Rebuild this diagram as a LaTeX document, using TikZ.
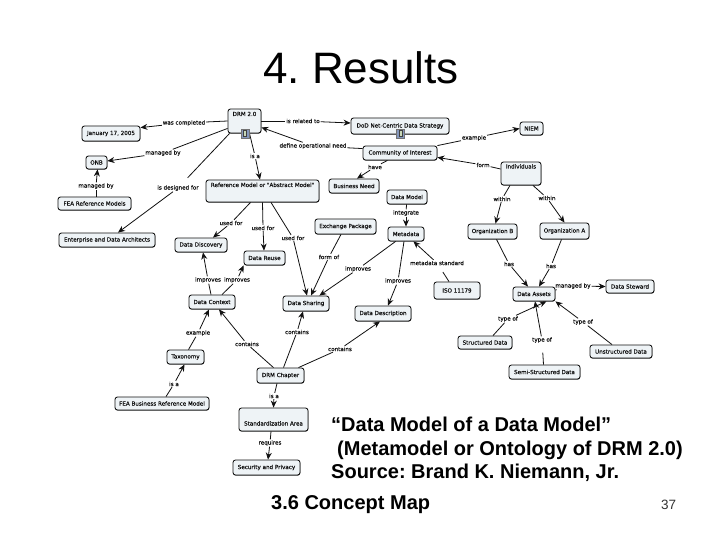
\documentclass[tikz,border=0pt]{standalone}
\usepackage{fontspec}
\setmainfont{Liberation Sans}
\newfontfamily\mapfont[UprightFeatures={FakeBold=0.35}]{DejaVu Sans}
\usetikzlibrary{arrows.meta,shadows}
\definecolor{boxfill}{HTML}{EEF3F6}
\definecolor{inkc}{HTML}{111111}
\definecolor{iconblue}{HTML}{8497BC}
\definecolor{icongreen}{HTML}{C8D8B8}
\tikzset{
  cbox/.style={draw=inkc,line width=0.85pt,fill=boxfill,rounded corners=2.5pt,inner sep=0pt,
    font=\mapfont\fontsize{5.6}{6}\selectfont,text=inkc,
    drop shadow={shadow xshift=0.25pt,shadow yshift=-0.6pt,fill=black!75,opacity=1}},
  lab/.style={inner sep=0.8pt,font=\mapfont\fontsize{5.6}{6}\selectfont,text=inkc},
  lin/.style={draw=inkc,line width=0.8pt},
  arr/.style={lin,-{Stealth[length=7pt,width=6pt]}},
  iconbox/.style={draw=black!55,line width=0.4pt,fill=iconblue,minimum width=8pt,minimum height=9pt,inner sep=0pt},
  iconin/.style={draw=black!75,line width=0.5pt,fill=icongreen,minimum width=3pt,minimum height=6pt,inner sep=0pt},
}
\newcommand{\bx}[6]{%
  \pgfmathsetmacro\cxx{(#2+#4)/2}\pgfmathsetmacro\cyy{(#3+#5)/2}%
  \pgfmathsetmacro\wxx{#4-#2}\pgfmathsetmacro\hxx{#5-#3}%
  \node[cbox,minimum width=\wxx pt,minimum height=\hxx pt] (#1) at (\cxx,\cyy) {#6};}
\newcommand{\up}[2]{\raisebox{#1pt}[0pt][0pt]{#2}}
\begin{document}
\frenchspacing
\begin{tikzpicture}[x=1pt,y=-1pt]
\useasboundingbox (0,0) rectangle (720,540);
\fill[white] (0,0) rectangle (720,540);
% title and caption
\node[anchor=base west,inner sep=0pt,font=\fontsize{44}{44}\selectfont] (title) at (263,84) {4. Results};
\node[anchor=base west,inner sep=0pt,font=\bfseries\fontsize{20}{20}\selectfont] (c1) at (331,431) {“Data Model of a Data Model”};
\node[anchor=base west,inner sep=0pt,font=\bfseries\fontsize{20}{20}\selectfont] (c2) at (337,455) {(Metamodel or Ontology of DRM 2.0)};
\node[anchor=base west,inner sep=0pt,font=\bfseries\fontsize{20}{20}\selectfont] (c3) at (331,478) {Source: Brand K. Niemann, Jr.};
\node[anchor=base west,inner sep=0pt,font=\bfseries\fontsize{20}{20}\selectfont] (c4) at (271,509) {3.6 Concept Map};
\node[anchor=base west,inner sep=0pt,font=\fontsize{13.5}{14}\selectfont,text=black!80] (pg) at (661,509) {37};
% concepts
\bx{drm}{228}{109}{261}{133}{\up{5}{DRM 2.0}}
\bx{jan}{82}{126}{140}{141}{January 17, 2005}
\bx{onb}{86}{156}{107}{169}{ONB}
\bx{fea}{58}{197}{131}{210}{FEA Reference Models}
\bx{ent}{59}{233}{155}{247}{Enterprise and Data Architects}
\bx{ref}{206}{180}{319}{202}{\up{4}{Reference Model or "Abstract Model"}}
\bx{disc}{175}{238}{227}{252}{Data Discovery}
\bx{reuse}{244}{251}{285}{265}{Data Reuse}
\bx{exch}{315}{219}{376}{234}{Exchange Package}
\bx{biz}{329}{179}{379}{193}{Business Need}
\bx{dod}{351}{118}{449}{134}{DoD Net-Centric Data Strategy}
\bx{coi}{363}{146}{437}{160}{Community of Interest}
\bx{niem}{520}{122}{543}{135}{NIEM}
\bx{ind}{501}{162}{541}{185}{\up{5}{Individuals}}
\bx{dm}{387}{190}{427}{204}{Data Model}
\bx{meta}{388}{227}{424}{241}{Metadata}
\bx{orgb}{468}{224}{517}{239}{Organization B}
\bx{orga}{540}{223}{589}{239}{Organization A}
\bx{iso}{434}{282}{480}{299}{ISO 11179}
\bx{assets}{513}{287}{555}{301}{Data Assets}
\bx{stew}{606}{280}{654}{293}{Data Steward}
\bx{desc}{355}{306}{411}{321}{Data Description}
\bx{struc}{458}{336}{512}{349}{Structured Data}
\bx{semi}{509}{365}{580}{379}{Semi-Structured Data}
\bx{unst}{590}{345}{652}{358}{Unstructured Data}
\bx{share}{283}{296}{329}{311}{Data Sharing}
\bx{ctx}{189}{295}{235}{309}{Data Context}
\bx{tax}{167}{350}{204}{364}{Taxonomy}
\bx{chap}{257}{368}{304}{383}{DRM Chapter}
\bx{brm}{115}{397}{209}{410}{FEA Business Reference Model}
\bx{std}{239}{408}{308}{431}{\up{-6}{Standardization Area}}
\bx{sec}{233}{460}{300}{475}{Security and Privacy}
% linking phrases
\node[lab] (l1) at (184,123) {was completed};
\node[lab] (l2) at (303,121) {is related to};
\node[lab] (l3) at (255,156) {is a};
\node[lab] (l4) at (163,153) {managed by};
\node[lab] (l5) at (178,188) {is designed for};
\node[lab] (l6) at (96,186) {managed by};
\node[lab] (l7) at (313,146) {define operational need};
\node[lab] (l8) at (474,138) {example};
\node[lab] (l9) at (483,165) {form};
\node[lab] (l10) at (375,167) {have};
\node[lab] (l11) at (406,213) {integrate};
\node[lab] (l12) at (502,199) {within};
\node[lab] (l13) at (547,198) {within};
\node[lab] (l14) at (509,264) {has};
\node[lab] (l15) at (551,266) {has};
\node[lab] (l16) at (573,286) {managed by};
\node[lab] (l17) at (508,319) {type of};
\node[lab] (l18) at (542,340) {type of};
\node[lab] (l19) at (583,322) {type of};
\node[lab] (l20) at (437,263) {metadata standard};
\node[lab] (l21) at (398,281) {improves};
\node[lab] (l22) at (358,269) {improves};
\node[lab] (l23) at (329,257) {form of};
\node[lab] (l24) at (293,238) {used for};
\node[lab] (l25) at (263,228) {used for};
\node[lab] (l26) at (231,223) {used for};
\node[lab] (l27) at (208,280) {improves};
\node[lab] (l28) at (237,280) {improves};
\node[lab] (l29) at (198,333) {example};
\node[lab] (l30) at (174,384) {is a};
\node[lab] (l31) at (247,344) {contains};
\node[lab] (l32) at (297,332) {contains};
\node[lab] (l33) at (340,349) {contains};
\node[lab] (l34) at (274,396) {is a};
\node[lab] (l35) at (270,443) {requires};
% connectors
\draw[lin] (drm.west) -- (l1); \draw[arr] (l1) -- ([yshift=-2]jan.north east);
\draw[lin] (drm.east) -- (l2); \draw[arr] (l2) -- ([yshift=3]dod.west);
\draw[lin] ([xshift=5]drm.south) -- (l3); \draw[arr] (l3) -- ([xshift=-2.5]ref.north);
\draw[lin] ([yshift=5]drm.south west) -- (l4); \draw[arr] (l4) -- ([yshift=1.5]onb.east);
\draw[lin,shorten >=9pt] ([xshift=2]drm.south west) -- (l5); \draw[arr] (l5) -- ([xshift=11]ent.north);
\draw[lin] ([xshift=1.5]fea.north) -- (l6);
\draw[arr] (l6) -- ([xshift=1]onb.south);
\draw[lin] ([yshift=-3]coi.north west) -- (l7); \draw[arr] (l7) -- ([yshift=6]drm.south east);
\draw[lin] (coi.north east) -- (l8); \draw[arr] (l8) -- (niem.west);
\draw[lin] ([yshift=4.5]ind.west) -- (l9); \draw[arr] (l9) -- ([yshift=3]coi.south east);
\draw[lin] ([xshift=-50]coi.south east) -- (l10); \draw[arr] (l10) -- ([xshift=3]biz.north);
\draw[lin] (dm) -- (l11); \draw[arr] (l11) -- (meta.north);
\draw[lin] ([xshift=-11]ind.south) -- (l12); \draw[arr] (l12) -- ([xshift=3]orgb.north);
\draw[lin] ([xshift=12]ind.south) -- (l13); \draw[arr] (l13) -- (orga.north);
\draw[lin] ([xshift=4]orgb.south) -- (l14); \draw[arr] (l14) -- ([xshift=-6]assets.north);
\draw[lin] ([xshift=-3]orga.south) -- (l15); \draw[arr] (l15) -- ([xshift=5]assets.north);
\draw[lin] ([yshift=4]assets.east) -- (l16); \draw[arr] (l16) -- (stew.west);
\draw[lin] ([xshift=8]struc.north) -- (l17); \draw[arr] (l17) -- ([xshift=-9]assets.south east);
\draw[lin,shorten >=9pt] ([xshift=-1]semi.north) -- (l18); \draw[arr] (l18) -- ([xshift=1]assets.south);
\draw[lin] ([xshift=-9]unst.north) -- (l19); \draw[arr] (l19) -- (assets.south east);
\draw[lin,shorten >=7pt] ([xshift=-8]iso.north) -- (l20); \draw[arr] (l20) -- ([xshift=-11]meta.south east);
\draw[lin] ([xshift=-2]meta.south) -- (l21); \draw[arr] (l21) -- ([xshift=5]desc.north);
\draw[lin] ([xshift=8]meta.south west) -- (l22); \draw[arr] (l22) -- ([xshift=-10]share.north east);
\draw[lin] ([xshift=-4.5]exch.south) -- (l23); \draw[arr] (l23) -- ([xshift=5]share.north);
\draw[lin] ([xshift=8.5]ref.south) -- (l24); \draw[arr] (l24) -- ([xshift=1]share.north);
\draw[lin] (ref.south) -- (l25); \draw[arr] (l25) -- ([xshift=-0.5]reuse.north);
\draw[lin] ([xshift=-12]ref.south) -- (l26); \draw[arr] (l26) -- ([xshift=12]disc.north);
\draw[lin] ([xshift=-1]ctx.north) -- (l27); \draw[arr] (l27) -- ([xshift=2]disc.south);
\draw[lin] ([xshift=10]ctx.north) -- (l28); \draw[arr] (l28) -- (reuse.south west);
\draw[lin] ([xshift=3]tax.north) -- (l29); \draw[arr] (l29) -- ([xshift=-3]ctx.south);
\draw[lin] ([xshift=4]brm.north) -- (l30); \draw[arr] (l30) -- ([xshift=-1]tax.south);
\draw[lin] ([xshift=-7]chap.north) -- (l31); \draw[arr] (l31) -- ([xshift=7]ctx.south);
\draw[lin] ([xshift=3]chap.north) -- (l32); \draw[arr] (l32) -- ([xshift=-3]share.south);
\draw[lin] ([xshift=18]chap.north) -- (l33); \draw[arr] (l33) -- ([xshift=-3]desc.south);
\draw[lin] ([xshift=-3.5]chap.south) -- (l34); \draw[arr] (l34) -- (std.north);
\draw[lin] ([xshift=-2.5]std.south) -- (l35); \draw[arr] (l35) -- ([xshift=1.5]sec.north);
% icons
\node[iconbox] (ic1) at (245,133.5) {};
\node[iconin] (ic1b) at (245,133.5) {};
\node[iconbox] (ic2) at (400.5,133.5) {};
\node[iconin] (ic2b) at (400.5,133.5) {};
\end{tikzpicture}
\end{document}
